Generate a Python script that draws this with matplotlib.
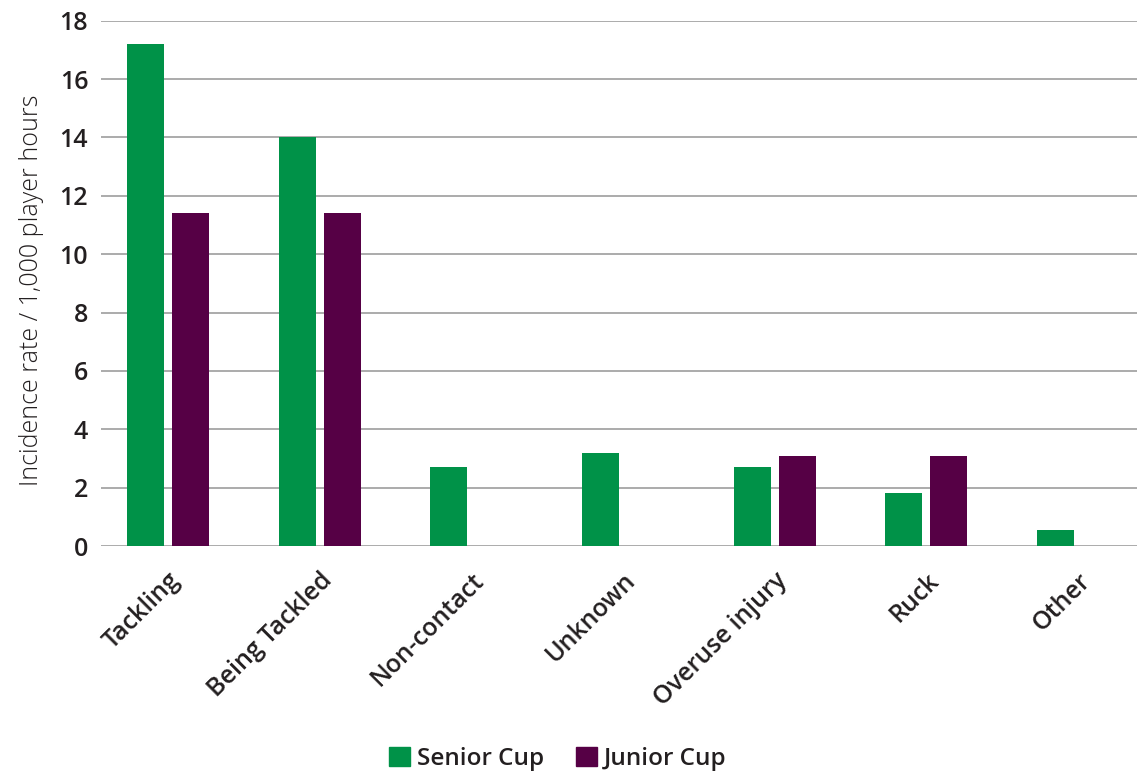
import matplotlib
matplotlib.use("Agg")
import matplotlib.pyplot as plt
import matplotlib.transforms as mtransforms
import numpy as np
from matplotlib.patches import Patch

categories = ["Tackling", "Being Tackled", "Non-contact", "Unknown",
              "Overuse injury", "Ruck", "Other"]
senior_cup = [17.2, 14.0, 2.7, 3.2, 2.7, 1.8, 0.55]
junior_cup = [11.4, 11.4, 0, 0, 3.1, 3.1, 0]
y_ticks = [0, 2, 4, 6, 8, 10, 12, 14, 16, 18]

GREEN = "#009248"
PURPLE = "#560045"
TEXT = "#231f20"
FONT = "Open Sans"

fig = plt.figure(figsize=(11.37, 7.75), dpi=100)
ax = fig.add_axes([100.7 / 1137, 1 - 546 / 775, 1 - 100.7 / 1137, (546 - 20.7) / 775])

x = np.arange(len(categories))
w = 0.244
off = 0.1485
ax.bar(x - off, senior_cup, width=w, color=GREEN, zorder=3, label="Senior Cup")
ax.bar(x + off, junior_cup, width=w, color=PURPLE, zorder=3, label="Junior Cup")

ax.set_xlim(-0.443, 6.39)
ax.set_ylim(0, 18)
ax.set_yticks(y_ticks)
ax.set_yticklabels([str(t) for t in y_ticks], fontsize=18, fontweight="semibold",
                   color=TEXT, family=FONT)
ax.set_xticks(x)
ax.set_xticklabels(categories, rotation=45, ha="right", va="top",
                   rotation_mode="anchor", fontsize=18, fontweight="semibold",
                   color=TEXT, family=FONT)
shift = mtransforms.ScaledTranslation(-6 / 100, 0, fig.dpi_scale_trans)
for lab in ax.get_xticklabels():
    lab.set_transform(lab.get_transform() + shift)
ax.tick_params(axis="both", length=0)
ax.tick_params(axis="y", pad=9)
ax.tick_params(axis="x", pad=16)
ax.grid(axis="y", color="#ababab", linewidth=1.4, zorder=0)
for s in ax.spines.values():
    s.set_visible(False)

fig.text(32 / 1137, 1 - 290 / 775, "Incidence rate / 1,000 player hours", rotation=90,
         ha="center", va="center", fontsize=18, color=TEXT, family=FONT, fontweight="light")

handles = [Patch(color=GREEN), Patch(color=PURPLE)]
leg = fig.legend(handles, ["Senior Cup", "Junior Cup"], loc="center",
                 bbox_to_anchor=(558 / 1137, 1 - 759 / 775), ncol=2, frameon=False,
                 handlelength=0.85, handleheight=0.85, handletextpad=0.3,
                 columnspacing=1.3,
                 prop={"family": FONT, "size": 17.5, "weight": "semibold"})
for t in leg.get_texts():
    t.set_color(TEXT)

fig.savefig("out.png", dpi=100)
